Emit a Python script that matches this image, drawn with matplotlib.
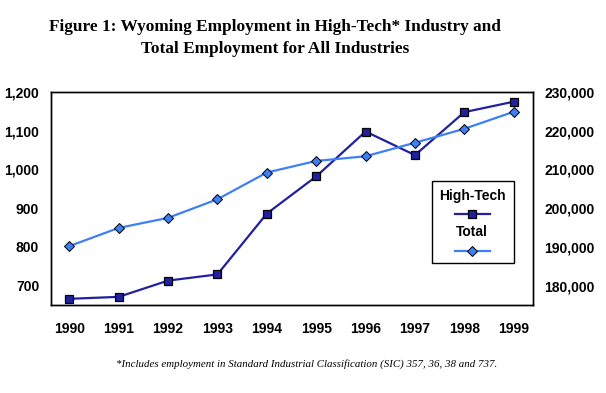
import matplotlib
matplotlib.use("Agg")
import matplotlib.pyplot as plt
from matplotlib.lines import Line2D
from matplotlib.patches import Rectangle
from matplotlib.ticker import FuncFormatter
from matplotlib.font_manager import FontProperties

# data
years = [1990, 1991, 1992, 1993, 1994, 1995, 1996, 1997, 1998, 1999]
high_tech = [666, 671, 713, 729, 886, 982, 1098, 1037, 1148, 1175]
total = [190200, 194900, 197500, 202300, 209200, 212200, 213400, 216900, 220500, 224900]

NAVY = "#2020a0"
LIGHT = "#3d80f5"
W, H = 606, 393

fig = plt.figure(figsize=(W / 100, H / 100), dpi=100)
fig.patch.set_facecolor("white")
ax = fig.add_axes([51 / W, 1 - 305 / H, (533 - 51) / W, (305 - 92) / H])
ax2 = ax.twinx()

sq = dict(color=NAVY, lw=1.6, marker="s", ms=6.3, mfc=NAVY, mec="black", mew=0.9)
dm = dict(color=LIGHT, lw=1.6, marker="D", ms=5.6, mfc=LIGHT, mec="black", mew=0.7)

ax.plot(years, high_tech, zorder=3, **sq)
ax2.plot(years, total, zorder=3, **dm)

ax.set_xlim(years[0] - 0.37, years[-1] + 0.39)
ax.set_ylim(650, 1200)
ax2.set_ylim(175000, 230000)
ax.set_xticks(years)
ax.set_yticks([700, 800, 900, 1000, 1100, 1200])
ax2.set_yticks([180000, 190000, 200000, 210000, 220000, 230000])
fmt = FuncFormatter(lambda v, p: f"{int(v):,}")
ax.yaxis.set_major_formatter(fmt)
ax2.yaxis.set_major_formatter(fmt)

tick_fp = FontProperties(family="Liberation Sans", weight="bold", size=10)
for a in (ax, ax2):
    a.tick_params(length=0)
    for lab in a.get_xticklabels() + a.get_yticklabels():
        lab.set_fontproperties(tick_fp)
    for s in a.spines.values():
        s.set_linewidth(1)
        s.set_color("black")
ax.tick_params(axis="x", pad=12)
ax.tick_params(axis="y", pad=8.5)
ax2.tick_params(axis="y", pad=8)

# title
title_font = dict(family="Liberation Serif", weight="bold", size=12.4, ha="center")
fig.text(275 / W, 1 - 31 / H, "Figure 1: Wyoming Employment in High-Tech* Industry and",
         va="baseline", **title_font)
fig.text(275 / W, 1 - 53 / H, "Total Employment for All Industries",
         va="baseline", **title_font)

# footnote
fig.text(307 / W, 1 - 364 / H,
         "*Includes employment in Standard Industrial Classification (SIC) 357, 36, 38 and 737.",
         family="Liberation Serif", style="italic", size=7.8, ha="center", va="center")

# legend: label above each handle
fig.add_artist(Rectangle((432 / W, 1 - 263 / H), (514 - 432) / W, (263 - 181) / H,
                         transform=fig.transFigure, fc="white", ec="black", lw=1, zorder=5))
leg_font = dict(family="Liberation Sans", weight="bold", size=10, ha="center", va="center", zorder=6)
fig.text(472 / W, 1 - 196 / H, "High-Tech", **leg_font)
fig.text(472 / W, 1 - 232 / H, "Total", **leg_font)
fig.add_artist(Line2D([455 / W, 472 / W, 490 / W], [1 - 214 / H] * 3, transform=fig.transFigure,
                      markevery=[1], zorder=6, **sq))
fig.add_artist(Line2D([455 / W, 472 / W, 490 / W], [1 - 251 / H] * 3, transform=fig.transFigure,
                      markevery=[1], zorder=6, **dm))

fig.savefig("out.png", dpi=100)
